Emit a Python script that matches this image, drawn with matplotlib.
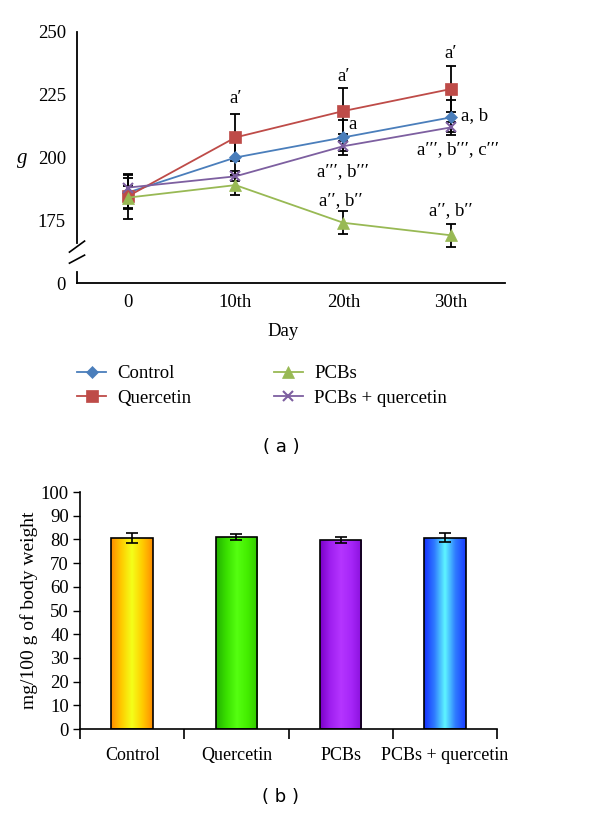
import numpy as np
import matplotlib
matplotlib.use("Agg")
import matplotlib.pyplot as plt
from matplotlib.colors import LinearSegmentedColormap

plt.rcParams['font.family'] = ['Liberation Serif', 'DejaVu Serif']

# ---- Panel (a) data ----
days = ["0", "10th", "20th", "30th"]
control = [186, 200, 208, 216]
control_err = [6, 7, 7, 7]
quercetin = [184.5, 208, 218.5, 227.3]
quercetin_err = [9, 9.5, 9, 9.3]
pcbs = [184, 189, 174, 169]
pcbs_err = [4.5, 4, 4.5, 4.5]
pcbs_q = [188, 192.5, 204.5, 212]
pcbs_q_err = [5, 2, 2, 2]
series_names = ["Control", "Quercetin", "PCBs", "PCBs + quercetin"]

# ---- Panel (b) data ----
groups = ["Control", "Quercetin", "PCBs", "PCBs + quercetin"]
liver = [80.5, 81.0, 79.8, 80.7]
liver_err = [2.2, 1.3, 1.2, 1.9]

fig = plt.figure(figsize=(6, 8.13), dpi=100)

# ================= Panel (a) =================
ax = fig.add_axes([77/600, 1-283/813, (505-77)/600, (283-32)/813])
x = np.arange(len(days))
styles = [
    (control, control_err, "#4a7ebb", "D", 6),
    (quercetin, quercetin_err, "#be4b48", "s", 8),
    (pcbs, pcbs_err, "#98b954", "^", 8),
    (pcbs_q, pcbs_q_err, "#7d5fa0", "x", 7),
]
handles = []
for (vals, err, col, mk, ms), name in zip(styles, series_names):
    ax.errorbar(x, vals, yerr=err, fmt="none", ecolor="black", elinewidth=1.3,
                capsize=3.5, capthick=1.3, zorder=2)
    h, = ax.plot(x, vals, color=col, marker=mk, markersize=ms, lw=1.3,
                 markeredgewidth=1.5 if mk == "x" else 0.5, markeredgecolor=col,
                 zorder=3, label=name)
    handles.append(h)

ax.set_xlim(-0.47, 3.5)
ax.set_ylim(150, 250)
ax.set_yticks([150, 175, 200, 225, 250])
ax.set_yticklabels(["0", "175", "200", "225", "250"])
ax.set_xticks(x)
ax.set_xticklabels(days)
ax.tick_params(axis="both", length=0, labelsize=13.5, pad=8)
for s in ["top", "right", "left"]:
    ax.spines[s].set_visible(False)
ax.spines["bottom"].set_linewidth(1.3)
# broken y axis
ax.plot([-0.47, -0.47], [165.8, 250], color="black", lw=1.3, clip_on=False, zorder=4)
ax.plot([-0.47, -0.47], [150, 154.3], color="black", lw=1.3, clip_on=False, zorder=4)
ax.plot([-0.54, -0.40], [162.3, 166.7], color="black", lw=1.2, clip_on=False)
ax.plot([-0.54, -0.40], [157.9, 161.1], color="black", lw=1.2, clip_on=False)

fs = 13.5
ax.text(1, 223.5, "a\u2032", ha="center", va="center", fontsize=fs)
ax.text(2, 232.3, "a\u2032", ha="center", va="center", fontsize=fs)
ax.text(2.05, 213.3, "a", ha="left", va="center", fontsize=fs)
ax.text(2.0, 194.5, "a\u2032\u2032\u2032, b\u2032\u2032\u2032", ha="center", va="center", fontsize=fs)
ax.text(1.98, 183.0, "a\u2032\u2032, b\u2032\u2032", ha="center", va="center", fontsize=fs)
ax.text(3, 241.6, "a\u2032", ha="center", va="center", fontsize=fs)
ax.text(3.09, 216.5, "a, b", ha="left", va="center", fontsize=fs)
ax.text(3.06, 203.0, "a\u2032\u2032\u2032, b\u2032\u2032\u2032, c\u2032\u2032\u2032", ha="center", va="center", fontsize=fs)
ax.text(3.0, 179.0, "a\u2032\u2032, b\u2032\u2032", ha="center", va="center", fontsize=fs)

fig.text(22/600, 1-159/813, "g", ha="center", va="center", fontsize=15, style="italic")
fig.text(283/600, 1-331/813, "Day", ha="center", va="center", fontsize=13.5)

leg = fig.legend(handles, series_names, loc="center left", ncol=2,
                 bbox_to_anchor=(77/600, 1-386/813), frameon=False, fontsize=13.5,
                 handlelength=1.55, columnspacing=4.4, labelspacing=0.4,
                 handletextpad=0.6, borderpad=0, borderaxespad=0)
fig.text(281/600, 1-447/813, "( a )", ha="center", va="center", fontsize=13,
         family="DejaVu Sans")

# ================= Panel (b) =================
bx = fig.add_axes([80/600, 1-729/813, (497-80)/600, (729-492)/813])
bx.set_xlim(-0.5, 3.5)
bx.set_ylim(0, 100)
xb = np.arange(len(groups))
w = 0.4
gradients = [
    ["#ff8c00", "#ffcc00", "#f4ff1a", "#ffcc00", "#ff8c00"],
    ["#22b000", "#3ae000", "#55ff11", "#44ee00", "#33c800"],
    ["#7a00c8", "#a020f0", "#b535ff", "#a626f8", "#8a10dc"],
    ["#1530ff", "#2f7bff", "#5ef6ff", "#2f7bff", "#1a3cff"],
]
bars = bx.bar(xb, liver, width=w, color="none", edgecolor="black", linewidth=1.2, zorder=3)
for b, cols in zip(bars, gradients):
    cmap = LinearSegmentedColormap.from_list("g", cols)
    x0 = b.get_x()
    grad = np.linspace(0, 1, 256).reshape(1, -1)
    im = bx.imshow(grad, cmap=cmap, aspect="auto",
                   extent=[x0, x0 + b.get_width(), 0, b.get_height()], zorder=2)
    im.set_clip_path(b)
bx.errorbar(xb, liver, yerr=liver_err, fmt="none", ecolor="black", elinewidth=1.2,
            capsize=4, capthick=1.2, zorder=4)
bx.set_xlim(-0.5, 3.5)
bx.set_ylim(0, 100)
bx.set_yticks(np.arange(0, 101, 10))
bx.tick_params(axis="y", length=5, width=1, labelsize=13.5, pad=3)
bx.set_xticks(xb)
bx.set_xticklabels(groups)
bx.tick_params(axis="x", length=0, labelsize=13, pad=13)
bx.set_xticks([-0.5, 0.5, 1.5, 2.5, 3.5], minor=True)
bx.tick_params(axis="x", which="minor", length=7, width=1.2, direction="out")
for s in ["top", "right"]:
    bx.spines[s].set_visible(False)
bx.spines["left"].set_linewidth(1.2)
bx.spines["bottom"].set_linewidth(1.2)
bx.set_ylabel("mg/100 g of body weight", fontsize=14, labelpad=2)
fig.text(281/600, 1-797/813, "( b )", ha="center", va="center", fontsize=13,
         family="DejaVu Sans")

fig.savefig("out.png", dpi=100)
